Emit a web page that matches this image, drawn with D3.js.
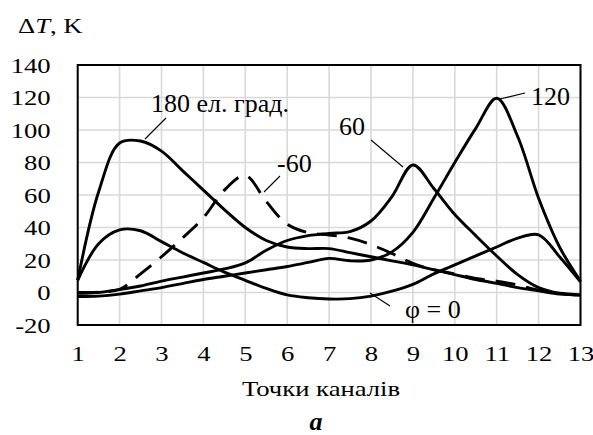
<!DOCTYPE html>
<html>
<head>
<meta charset="utf-8">
<script src="https://cdn.jsdelivr.net/npm/d3@7/dist/d3.min.js"></script>
<style>
  html, body { margin: 0; padding: 0; background: #fff; }
  svg text { font-family: "Liberation Serif", "Times New Roman", "DejaVu Serif", serif; fill: #000; }
</style>
</head>
<body>
<svg id="chart" width="593" height="435"></svg>
<script>
// Channel points (half-step samples along the channel)
const points = [1, 1.5, 2, 2.5, 3, 3.5, 4, 4.5, 5, 5.5, 6, 6.5, 7,
                7.5, 8, 8.5, 9, 9.5, 10, 10.5, 11, 11.5, 12, 12.5, 13];

// Temperature rise ΔT, K, for each phase angle
const phi0   = [7.5, 30, 38.5, 38, 31.3, 24.5, 18.5, 12.5, 7.5, 2.5, -1.5, -3.2, -4,
                -3.8, -2.2, 0.8, 5, 11.5, 17, 22.5, 28, 33.5, 35.5, 22, 6.5];
const phiM60 = [0, 0.3, 2, 11.5, 22, 33.5, 46, 63, 72, 56, 42, 36.8, 35.4,
                33.5, 29.5, 24, 18, 14, 11.4, 8.7, 7, 4.6, 1.5, -0.5, -1.5];
const phi60  = [-0.5, 0, 1.8, 4, 7, 9.5, 12, 14.5, 18.2, 26, 32, 35, 36.4,
                37.5, 44, 59, 78.5, 64, 48, 35, 22.5, 11, 3, -0.5, -1.5];
const phi120 = [-2.5, -2.2, -1, 1, 3, 5.5, 8, 10, 12, 14, 16, 18.5, 21,
                19.5, 20, 25, 37, 58, 80, 101, 119.5, 96, 58, 28, 7];
const phi180 = [7.5, 62, 92, 93.2, 87, 75, 63, 51, 40, 32, 28, 27, 27,
                24.5, 22, 19.5, 17, 14, 11, 8, 5.6, 3, 1, -1, -1.5];

// Axis ticks
const xTicks = [1, 2, 3, 4, 5, 6, 7, 8, 9, 10, 11, 12, 13];
const yTicks = [-20, 0, 20, 40, 60, 80, 100, 120, 140];

const series = [
  { name: "180", values: phi180, dashed: false },
  { name: "0",   values: phi0,   dashed: false },
  { name: "-60", values: phiM60, dashed: true  },
  { name: "60",  values: phi60,  dashed: false },
  { name: "120", values: phi120, dashed: false }
];

const FONT = '"Liberation Serif", "Times New Roman", "DejaVu Serif", serif';
const AXIS_FS = 20.5;      // axis text size
const STRETCH = "scale(1.3,1)"; // axis text is set wide
const svg = d3.select("#chart");
const plot = { left: 77.7, right: 580.5, top: 65, bottom: 325 };

const x = d3.scaleLinear().domain([1, 13]).range([plot.left, plot.right]);
const y = d3.scaleLinear().domain([-20, 140]).range([plot.bottom, plot.top]);

// Grid
const grid = svg.append("g").attr("stroke", "#d9d9d9").attr("stroke-width", 1.6);
grid.selectAll("line.v").data(xTicks).join("line")
  .attr("x1", d => x(d)).attr("x2", d => x(d))
  .attr("y1", plot.top).attr("y2", plot.bottom);
grid.selectAll("line.h").data(yTicks).join("line")
  .attr("x1", plot.left).attr("x2", plot.right)
  .attr("y1", d => y(d)).attr("y2", d => y(d));

// Axes with labels only (the frame is drawn separately)
const fmt = d => String(d);
const xAxis = d3.axisBottom(x).tickValues(xTicks).tickFormat(fmt).tickSize(0).tickPadding(0);
const gx = svg.append("g").attr("transform", `translate(0,${plot.bottom})`).call(xAxis);
gx.select(".domain").remove();
gx.attr("font-family", FONT).attr("font-size", AXIS_FS);
gx.selectAll("text").attr("dy", null).attr("y", 0)
  .attr("transform", `translate(0,36) ${STRETCH}`);

const yAxis = d3.axisLeft(y).tickValues(yTicks).tickFormat(fmt).tickSize(0).tickPadding(0);
const gy = svg.append("g").attr("transform", `translate(${plot.left - 27},0)`).call(yAxis);
gy.select(".domain").remove();
gy.attr("font-family", FONT).attr("font-size", AXIS_FS);
gy.selectAll("text").attr("x", 0).attr("dy", "0.35em").attr("transform", STRETCH);

// Curves
const line = d3.line()
  .x((d, i) => x(points[i]))
  .y(d => y(d))
  .curve(d3.curveCatmullRom.alpha(0.5));

svg.append("g").selectAll("path").data(series).join("path")
  .attr("d", d => line(d.values))
  .attr("fill", "none")
  .attr("stroke", "#000")
  .attr("stroke-width", 2.9)
  .attr("stroke-linejoin", "round")
  .attr("stroke-dasharray", d => d.dashed ? "20,11" : null);

// Plot frame
svg.append("rect")
  .attr("x", plot.left).attr("y", plot.top)
  .attr("width", plot.right - plot.left).attr("height", plot.bottom - plot.top)
  .attr("fill", "none").attr("stroke", "#000").attr("stroke-width", 2);

// Curve labels with leader lines
const labels = [
  { text: "180 ел. град.", tx: 151, ty: 112, x1: 166, y1: 118, x2: 145, y2: 139 },
  { text: "-60",           tx: 277, ty: 172, x1: 280, y1: 176, x2: 264, y2: 192 },
  { text: "60",            tx: 339, ty: 135, x1: 371, y1: 140, x2: 403, y2: 167 },
  { text: "120",           tx: 531, ty: 105, x1: 525, y1: 93,  x2: 500, y2: 99 },
  { text: "φ = 0",         tx: 405, ty: 318, x1: 370, y1: 293, x2: 390, y2: 306 }
];
const lg = svg.append("g").attr("font-family", FONT);
lg.selectAll("line").data(labels).join("line")
  .attr("x1", d => d.x1).attr("y1", d => d.y1)
  .attr("x2", d => d.x2).attr("y2", d => d.y2)
  .attr("stroke", "#000").attr("stroke-width", 1.1);
lg.selectAll("text").data(labels).join("text")
  .attr("x", d => d.tx).attr("y", d => d.ty)
  .attr("font-size", 26)
  .text(d => d.text);

// Axis titles
const yt = svg.append("text")
  .attr("transform", `translate(18,33) ${STRETCH}`)
  .attr("font-family", FONT).attr("font-size", AXIS_FS);
yt.append("tspan").text("Δ");
yt.append("tspan").attr("font-style", "italic").text("T");
yt.append("tspan").text(", K");

svg.append("text")
  .attr("transform", `translate(321,396) ${STRETCH}`)
  .attr("text-anchor", "middle").attr("font-family", FONT).attr("font-size", AXIS_FS)
  .text("Точки каналів");

svg.append("text")
  .attr("x", 316).attr("y", 430)
  .attr("text-anchor", "middle").attr("font-family", FONT).attr("font-size", 26)
  .attr("font-weight", "bold").attr("font-style", "italic")
  .text("a");
</script>
</body>
</html>
